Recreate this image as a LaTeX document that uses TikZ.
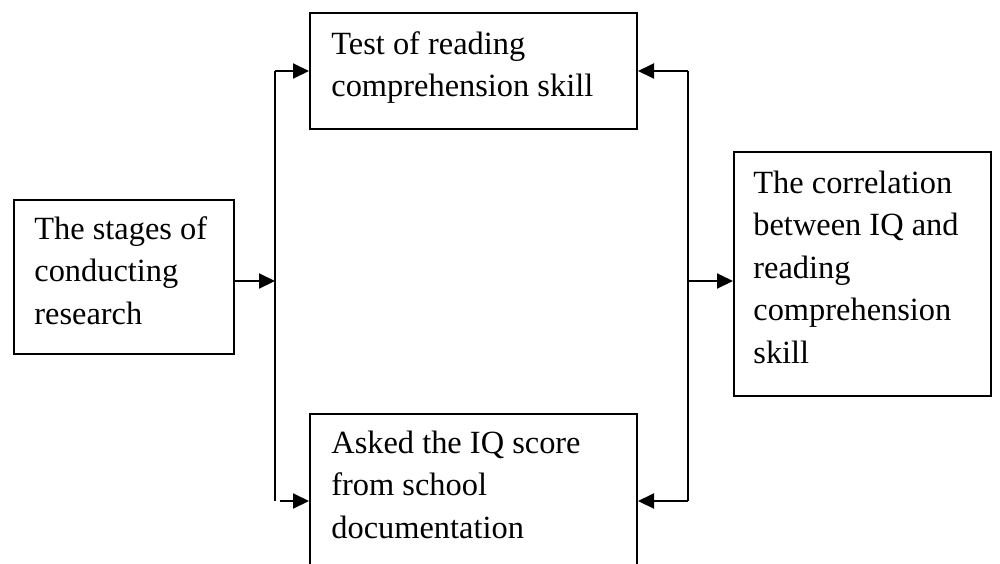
\documentclass[tikz,border=0pt]{standalone}
\usepackage{fontspec}
\setmainfont{Liberation Serif}
\usetikzlibrary{arrows.meta}
\begin{document}
\begin{tikzpicture}[x=0.5pt,y=-0.5pt,
  box/.style={draw,line width=1pt,inner sep=0pt,anchor=north west},
  txt/.style={anchor=north west,inner sep=0pt,align=left,yshift=14.875pt,
    font=\fontsize{16.2}{21.25}\selectfont},
  ln/.style={line width=1pt},
  arr/.style={line width=1pt,-{Triangle[length=8pt,width=7.5pt]}}]
\useasboundingbox (0,0) rectangle (1000,563);
\clip (0,0) rectangle (1000,563);
% boxes
\node[box,minimum width=110pt,minimum height=77pt] (stages) at (13,199) {};
\node[box,minimum width=163.5pt,minimum height=58pt] (test) at (309,12) {};
\node[box,minimum width=163.5pt,minimum height=100pt] (asked) at (309,413) {};
\node[box,minimum width=128.5pt,minimum height=122pt] (corr) at (733,151) {};
% texts
\node[txt] (tstages) at (34,239) {\strut The stages of\\conducting\\research};
\node[txt] (ttest) at (331,54) {\strut Test of reading\\comprehension skill};
\node[txt] (tasked) at (331,453) {\strut Asked the IQ score\\from school\\documentation};
\node[txt] (tcorr) at (753,193) {\strut The correlation\\between IQ and\\reading\\comprehension\\skill};
% junction coordinates
\coordinate (lt) at (275,71);
\coordinate (lm) at (275,281);
\coordinate (lb) at (275,501);
\coordinate (lbs) at (280,501);
\coordinate (rt) at (688,71);
\coordinate (rm) at (688,281);
\coordinate (rb) at (688,501);
% connectors
\draw[arr] (stages.east |- lm) -- (lm);
\draw[ln] (lb) -- (lt);
\draw[arr] (lt) -- (test.west |- lt);
\draw[arr] (lbs) -- (asked.west |- lbs);
\draw[ln] (rt) -- (rb);
\draw[arr] (rt) -- (test.east |- rt);
\draw[arr] (rb) -- (asked.east |- rb);
\draw[arr] (rm) -- (corr.west |- rm);
\end{tikzpicture}
\end{document}
